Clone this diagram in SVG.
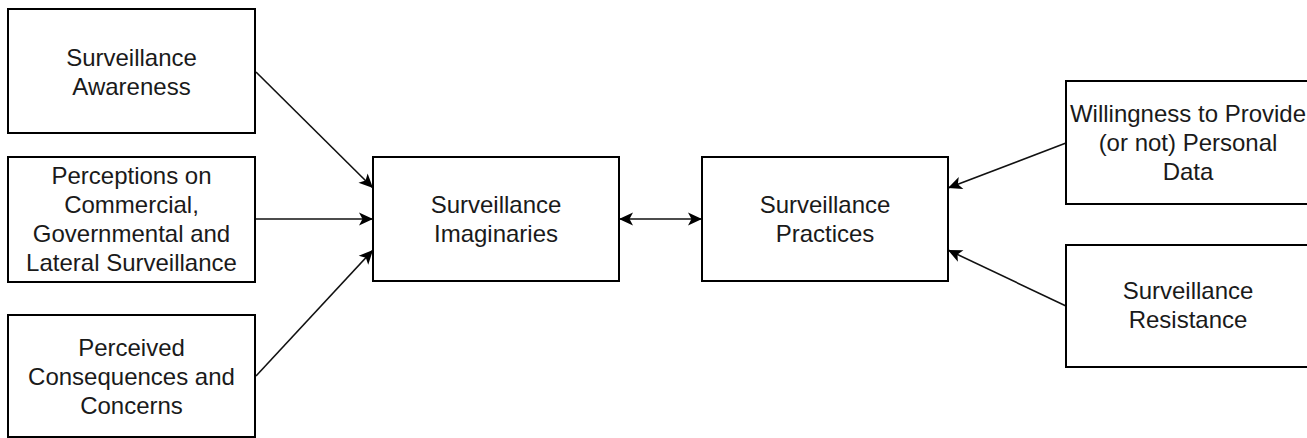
<svg xmlns="http://www.w3.org/2000/svg" width="1307" height="438" viewBox="0 0 1307 438">
  <style>
    .box { fill: #ffffff; stroke: #000000; stroke-width: 2; }
    .lbl { font-family: "Liberation Sans", Arial, sans-serif; font-size: 24px; fill: #1a1a1a; text-anchor: middle; }
    .edge { fill: none; stroke: #111111; stroke-width: 1.6; }
  </style>
  <defs>
    <marker id="arrowEnd" markerUnits="userSpaceOnUse" markerWidth="16" markerHeight="14" refX="15" refY="7" orient="auto">
      <path d="M1,0.5 L15,7 L1,13.5 L4.5,7 z" fill="#000000"/>
    </marker>
    <marker id="arrowStart" markerUnits="userSpaceOnUse" markerWidth="16" markerHeight="14" refX="1" refY="7" orient="auto">
      <path d="M15,0.5 L1,7 L15,13.5 L11.5,7 z" fill="#000000"/>
    </marker>
  </defs>

  <rect width="1307" height="438" fill="#ffffff"/>

  <g id="connectors">
    <line class="edge" x1="256" y1="72" x2="373" y2="188" marker-end="url(#arrowEnd)"/>
    <line class="edge" x1="256" y1="219" x2="373" y2="219" marker-end="url(#arrowEnd)"/>
    <line class="edge" x1="256" y1="376" x2="373" y2="250" marker-end="url(#arrowEnd)"/>
    <line class="edge" x1="619" y1="219" x2="702" y2="219" marker-start="url(#arrowStart)" marker-end="url(#arrowEnd)"/>
    <line class="edge" x1="1066" y1="143" x2="948" y2="188" marker-end="url(#arrowEnd)"/>
    <line class="edge" x1="1066" y1="306" x2="948" y2="250" marker-end="url(#arrowEnd)"/>
  </g>

  <g id="surveillance-awareness">
    <rect class="box" x="8" y="9" width="247" height="124"/>
    <text class="lbl" x="131.5" y="66">Surveillance</text>
    <text class="lbl" x="131.5" y="95">Awareness</text>
  </g>

  <g id="perceptions">
    <rect class="box" x="8" y="157" width="247" height="125"/>
    <text class="lbl" x="131.5" y="184">Perceptions on</text>
    <text class="lbl" x="131.5" y="213">Commercial,</text>
    <text class="lbl" x="131.5" y="242">Governmental and</text>
    <text class="lbl" x="131.5" y="271">Lateral Surveillance</text>
  </g>

  <g id="perceived-consequences">
    <rect class="box" x="8" y="315" width="247" height="122"/>
    <text class="lbl" x="131.5" y="356">Perceived</text>
    <text class="lbl" x="131.5" y="385">Consequences and</text>
    <text class="lbl" x="131.5" y="414">Concerns</text>
  </g>

  <g id="surveillance-imaginaries">
    <rect class="box" x="373" y="157" width="246" height="124"/>
    <text class="lbl" x="496" y="213">Surveillance</text>
    <text class="lbl" x="496" y="242">Imaginaries</text>
  </g>

  <g id="surveillance-practices">
    <rect class="box" x="702" y="157" width="246" height="124"/>
    <text class="lbl" x="825" y="213">Surveillance</text>
    <text class="lbl" x="825" y="242">Practices</text>
  </g>

  <g id="willingness">
    <rect class="box" x="1066" y="81" width="247" height="123"/>
    <text class="lbl" x="1188" y="122">Willingness to Provide</text>
    <text class="lbl" x="1188" y="151">(or not) Personal</text>
    <text class="lbl" x="1188" y="180">Data</text>
  </g>

  <g id="surveillance-resistance">
    <rect class="box" x="1066" y="245" width="247" height="122"/>
    <text class="lbl" x="1188" y="299">Surveillance</text>
    <text class="lbl" x="1188" y="328">Resistance</text>
  </g>
</svg>
